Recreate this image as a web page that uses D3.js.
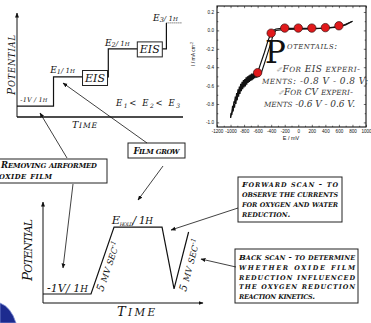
<!DOCTYPE html>
<html>
<head>
<meta charset="utf-8">
<script src="https://cdn.jsdelivr.net/npm/d3@7"></script>
<style>
body { margin: 0; background: #fff; }
svg { display: block; }
text { font-family: "DejaVu Serif", serif; font-style: italic; fill: #111; }
.bold { font-weight: bold; }
.tick text { font-family: "Liberation Sans", Arial, sans-serif; font-style: normal; font-size: 4.6px; }
.axlab { font-family: "Liberation Sans", Arial, sans-serif; font-style: normal; }
</style>
</head>
<body>
<svg id="chart" width="371" height="323"></svg>
<script>
// ---- top left: potential step program (schematic units 0-100) ----
var stepTime = [0, 22, 22, 55, 55, 90, 90];
var stepPot  = [10.5, 10.5, 38.5, 38.5, 65.5, 65.5, 90.5];
var tailTime = [90, 99.5];
var eisTime = [47, 80];
var eisPot  = [37.5, 65];

// ---- bottom: cyclic voltammetry program (schematic units 0-100) ----
var cvTime = [0, 30, 44.4, 74.4, 81.9, 91];
var cvPot  = [8.9, 8.9, 75.2, 75.2, 13.9, 70.3];

// ---- top right: polarisation curve ----
var xTicks = [-1200, -1000, -800, -600, -400, -200, 0, 200, 400, 600, 800, 1000];
var yTicks = [0.2, 0.0, -0.2, -0.4, -0.6, -0.8, -1.0];
var eisE = [-600, -400, -200, 0, 200, 400, 600];
var eisI = [-0.46, -0.03, 0.025, 0.025, 0.025, 0.03, 0.05];

var fwdE = [-1000, -990, -980, -970, -960, -950, -940, -930, -920, -910, -900, -890, -880, -870, -860, -850,
  -840, -830, -820, -810, -800, -790, -780, -770, -760, -750, -740, -730, -720, -710, -700, -690, -680, -670,
  -660, -650, -640, -630, -620, -610, -600, -560, -500, -450, -420, -400, -370, -330, -250, -200, 0, 200, 400,
  600, 700, 800];
var fwdI = [-0.95, -0.90, -0.89, -0.82, -0.84, -0.77, -0.79, -0.72, -0.75, -0.68, -0.71, -0.64, -0.68, -0.61,
  -0.65, -0.58, -0.63, -0.56, -0.61, -0.54, -0.59, -0.53, -0.57, -0.51, -0.56, -0.50, -0.54, -0.49, -0.53, -0.48,
  -0.52, -0.47, -0.51, -0.47, -0.50, -0.46, -0.49, -0.46, -0.48, -0.46, -0.46, -0.37, -0.24, -0.12, -0.06, -0.03,
  0.0, 0.015, 0.022, 0.022, 0.022, 0.022, 0.025, 0.04, 0.06, 0.10];
var revE = [800, 600, 200, -200, -330, -370, -390, -440, -500, -540, -580, -620, -630, -640, -650, -660, -670,
  -680, -690, -700, -710, -720, -730, -740, -750, -760, -770, -780, -790, -800, -810, -820, -830, -840, -850,
  -860, -870, -880, -890, -900, -910, -920, -930, -940, -950, -960, -970, -980, -990, -1000];
var revI = [0.10, 0.035, 0.015, 0.01, 0.0, -0.04, -0.10, -0.22, -0.36, -0.45, -0.50, -0.51, -0.47, -0.52, -0.48,
  -0.53, -0.49, -0.54, -0.50, -0.55, -0.50, -0.56, -0.51, -0.57, -0.52, -0.59, -0.54, -0.61, -0.55, -0.62, -0.57,
  -0.64, -0.59, -0.66, -0.61, -0.69, -0.64, -0.72, -0.67, -0.76, -0.71, -0.80, -0.75, -0.84, -0.80, -0.88, -0.85,
  -0.92, -0.90, -0.95];

var svg = d3.select("#chart");

var defs = svg.append("defs");
defs.append("marker").attr("id", "arr")
  .attr("viewBox", "0 0 10 10").attr("refX", 9).attr("refY", 5)
  .attr("markerWidth", 5).attr("markerHeight", 5)
  .attr("markerUnits", "userSpaceOnUse").attr("orient", "auto")
  .append("path").attr("d", "M0,1 L10,5 L0,9 z").attr("fill", "#111");

// small caps by hand: lowercase runs become smaller capitals
var SC = 0.8;
function label(x, y, parts, cls) {
  var t = svg.append("text").attr("x", x).attr("y", y);
  if (cls) t.attr("class", cls);
  parts.forEach(function(p) {
    var runs = [];
    if (p.sc) {
      var re = /([a-z]+)|([^a-z]+)/g, m;
      while ((m = re.exec(p.t))) {
        if (m[1]) runs.push({t: m[1].toUpperCase(), s: p.s * SC});
        else runs.push({t: m[2], s: p.s});
      }
    } else {
      runs.push({t: p.t, s: p.s});
    }
    runs.forEach(function(r, k) {
      var s = t.append("tspan").text(r.t).style("font-size", r.s + "px");
      if (p.dy && k == 0) s.attr("dy", p.dy);
      if (p.fill) s.style("fill", p.fill);
    });
  });
  return t;
}

function arrow(xa, ya, xb, yb) {
  svg.append("line").attr("x1", xa).attr("y1", ya).attr("x2", xb).attr("y2", yb)
    .attr("stroke", "#111").attr("stroke-width", 0.8).attr("marker-end", "url(#arr)");
}

function box(x, y, w, h) {
  svg.append("rect").attr("x", x).attr("y", y).attr("width", w).attr("height", h)
    .attr("fill", "#fff").attr("stroke", "#222").attr("stroke-width", 1);
}

var line = d3.line().x(function(d) { return d[0]; }).y(function(d) { return d[1]; });

////////////////// top left diagram //////////////////
var x1 = d3.scaleLinear().domain([0, 100]).range([17, 183]);
var y1 = d3.scaleLinear().domain([0, 100]).range([117, 13]);

svg.append("line").attr("x1", x1(0)).attr("y1", y1(0)).attr("x2", x1(0)).attr("y2", y1(100))
  .attr("stroke", "#111").attr("stroke-width", 1).attr("marker-end", "url(#arr)");
svg.append("line").attr("x1", x1(0)).attr("y1", y1(0)).attr("x2", x1(100)).attr("y2", y1(0))
  .attr("stroke", "#111").attr("stroke-width", 1.6);

svg.append("path")
  .attr("d", line(stepTime.map(function(t, i) { return [x1(t), y1(stepPot[i])]; })))
  .attr("fill", "none").attr("stroke", "#111").attr("stroke-width", 1.2);
svg.append("line").attr("x1", x1(tailTime[0])).attr("x2", x1(tailTime[1]))
  .attr("y1", y1(stepPot[6])).attr("y2", y1(stepPot[6]))
  .attr("stroke", "#111").attr("stroke-width", 0.8).attr("stroke-dasharray", "1,1");

eisTime.forEach(function(t, i) {
  var cx = x1(t), cy = y1(eisPot[i]);
  box(cx - 12.5, cy - 7.5, 25, 15);
  label(cx, cy + 4, [{t: "EIS", s: 11}]).attr("text-anchor", "middle");
});

label(x1(2), y1(stepPot[0]) - 4, [{t: "-1V / 1h", s: 6.5, sc: 1}]).attr("textLength", 27);
label(x1(20), y1(stepPot[2]) - 4, [{t: "E", s: 9}, {t: "1", s: 6.5, dy: 1.5}, {t: "/ 1h", s: 7, dy: -1.5, sc: 1}]);
label(x1(53), y1(stepPot[4]) - 3, [{t: "E", s: 9}, {t: "2", s: 6.5, dy: 1.5}, {t: "/ 1h", s: 7, dy: -1.5, sc: 1}]);
label(x1(82), y1(stepPot[6]) - 2, [{t: "E", s: 9}, {t: "3", s: 6.5, dy: 1.5}, {t: "/ 1h", s: 7, dy: -1.5, sc: 1}]);
label(116, 106, [{t: "E", s: 8.5}, {t: "1", s: 6, dy: 1.5}, {t: "< E", s: 8.5, dy: -1.5}, {t: "2", s: 6, dy: 1.5},
  {t: "< E", s: 8.5, dy: -1.5}, {t: "3", s: 6, dy: 1.5}]).attr("textLength", 64);
label(72, 128, [{t: "Time", s: 9.5, sc: 1}]).attr("textLength", 25);
label(0, 0, [{t: "Potential", s: 10.5, sc: 1}]).attr("text-anchor", "middle")
  .attr("transform", "translate(15,65) rotate(-90)").attr("textLength", 60);

////////////////// top right plot //////////////////
var xE = d3.scaleLinear().domain([-1200, 1000]).range([217, 366]);
var yI = d3.scaleLinear().domain([-1.05, 0.265]).range([127, 6]);
var xMinor = d3.range(-1100, 1000, 200);
var yMinor = [0.1, -0.1, -0.3, -0.5, -0.7, -0.9];

var gp = svg.append("g");
gp.append("g").attr("transform", "translate(0," + yI.range()[0] + ")")
  .call(d3.axisBottom(xE).tickValues(xTicks).tickSize(-2.2).tickPadding(2.5).tickFormat(function(d) { return d; }));
gp.append("g").attr("transform", "translate(0," + yI.range()[1] + ")")
  .call(d3.axisTop(xE).tickValues(xTicks).tickSize(-2.2).tickFormat(""));
gp.append("g").attr("transform", "translate(" + xE.range()[0] + ",0)")
  .call(d3.axisLeft(yI).tickValues(yTicks).tickSize(-2.2).tickPadding(3).tickFormat(function(d) { return d.toFixed(1); }));
gp.append("g").attr("transform", "translate(" + xE.range()[1] + ",0)")
  .call(d3.axisRight(yI).tickValues(yTicks).tickSize(-2.2).tickFormat(""));
gp.append("g").attr("transform", "translate(0," + yI.range()[0] + ")")
  .call(d3.axisBottom(xE).tickValues(xMinor).tickSize(-1.3).tickFormat(""));
gp.append("g").attr("transform", "translate(0," + yI.range()[1] + ")")
  .call(d3.axisTop(xE).tickValues(xMinor).tickSize(-1.3).tickFormat(""));
gp.append("g").attr("transform", "translate(" + xE.range()[0] + ",0)")
  .call(d3.axisLeft(yI).tickValues(yMinor).tickSize(-1.3).tickFormat(""));
gp.append("g").attr("transform", "translate(" + xE.range()[1] + ",0)")
  .call(d3.axisRight(yI).tickValues(yMinor).tickSize(-1.3).tickFormat(""));
gp.selectAll(".domain").remove();
gp.selectAll(".tick line").attr("stroke", "#111").attr("stroke-width", 0.6);
gp.append("rect").attr("x", xE.range()[0]).attr("y", yI.range()[1])
  .attr("width", xE.range()[1] - xE.range()[0]).attr("height", yI.range()[0] - yI.range()[1])
  .attr("fill", "none").attr("stroke", "#111").attr("stroke-width", 1.1);

var cvLineRaw = d3.line().x(function(d) { return xE(d[0]); }).y(function(d) { return yI(d[1]); });
gp.append("path").attr("d", cvLineRaw(revE.map(function(e, i) { return [e, revI[i]]; })))
  .attr("fill", "none").attr("stroke", "#111").attr("stroke-width", 1.1);
gp.append("path").attr("d", cvLineRaw(fwdE.map(function(e, i) { return [e, fwdI[i]]; })))
  .attr("fill", "none").attr("stroke", "#111").attr("stroke-width", 1.2);

gp.selectAll("circle.eis").data(eisE).enter().append("circle")
  .attr("class", "eis")
  .attr("cx", function(d) { return xE(d); })
  .attr("cy", function(d, i) { return yI(eisI[i]); })
  .attr("r", 4.2).attr("fill", "#e1191b").attr("stroke", "#3a1010").attr("stroke-width", 0.7);

svg.append("text").attr("class", "axlab").attr("x", 291).attr("y", 140)
  .attr("text-anchor", "middle").style("font-size", "5.5px").text("E / mV");
var yl = svg.append("text").attr("class", "axlab").attr("text-anchor", "middle")
  .attr("transform", "translate(195,54) rotate(-90)").style("font-size", "5px");
yl.append("tspan").text("I / mA cm");
yl.append("tspan").text("-2").attr("dy", -2).style("font-size", "3.5px");

label(265, 63, [{t: "P", s: 31}]).style("font-style", "normal");
label(287, 49, [{t: "otentails:", s: 8.5, sc: 1, fill: "#333"}]).attr("textLength", 50);
label(276, 72, [{t: "\u2710", s: 7, fill: "#999"}, {t: "For ", s: 9, sc: 1, fill: "#333"},
  {t: "EIS", s: 9, fill: "#333"}, {t: " experi-", s: 9, sc: 1, fill: "#333"}]).attr("textLength", 84);
label(262, 83.5, [{t: "ments:  -0.8 V - 0.8 V;", s: 9, sc: 1, fill: "#333"}]).attr("textLength", 106);
label(278, 95, [{t: "\u2710", s: 7, fill: "#999"}, {t: "For ", s: 9, sc: 1, fill: "#333"},
  {t: "CV", s: 9, fill: "#333"}, {t: " experi-", s: 9, sc: 1, fill: "#333"}]).attr("textLength", 75);
label(264, 106.5, [{t: "ments -0.6 V - 0.6 V.", s: 9, sc: 1, fill: "#333"}]).attr("textLength", 91);

////////////////// bottom diagram //////////////////
var x2 = d3.scaleLinear().domain([0, 100]).range([43, 203]);
var y2 = d3.scaleLinear().domain([0, 100]).range([303, 202]);

svg.append("line").attr("x1", x2(0)).attr("y1", y2(0)).attr("x2", x2(0)).attr("y2", y2(100))
  .attr("stroke", "#111").attr("stroke-width", 1).attr("marker-end", "url(#arr)");
svg.append("line").attr("x1", x2(0)).attr("y1", y2(0)).attr("x2", x2(100)).attr("y2", y2(0))
  .attr("stroke", "#111").attr("stroke-width", 1.2).attr("marker-end", "url(#arr)");
svg.append("path")
  .attr("d", line(cvTime.map(function(t, i) { return [x2(t), y2(cvPot[i])]; })))
  .attr("fill", "none").attr("stroke", "#111").attr("stroke-width", 1.2).attr("stroke-linejoin", "miter");

label(x2(2.5), y2(cvPot[0]) - 2, [{t: "-1V/ 1h", s: 11, sc: 1}]).attr("textLength", 41);
label(x2(43), y2(cvPot[2]) - 3, [{t: "E", s: 11.5}, {t: "hold", s: 6, sc: 1, dy: 1.5},
  {t: "/ 1h", s: 11, sc: 1, dy: -1.5}]).attr("textLength", 41);
label(0, 0, [{t: "5 mv sec", s: 10.5, sc: 1}, {t: "-1", s: 6.5, dy: -4}])
  .attr("transform", "translate(103,292) rotate(-71)").attr("textLength", 52);
label(0, 0, [{t: "5 mv sec", s: 10.5, sc: 1}, {t: "-1", s: 6.5, dy: -4}])
  .attr("transform", "translate(186,292) rotate(-75)").attr("textLength", 54);
label(117, 316, [{t: "Time", s: 13, sc: 1}]).attr("textLength", 38);
label(0, 0, [{t: "Potential", s: 13.5, sc: 1}]).attr("text-anchor", "middle")
  .attr("transform", "translate(32,250) rotate(-90)").attr("textLength", 62);

////////////////// callout boxes //////////////////
box(-5, 159, 112, 24);
label(1, 168, [{t: "Removing airformed", s: 8.5, sc: 1}], "bold").attr("textLength", 96);
label(-1, 179, [{t: "oxide film", s: 8.5, sc: 1}], "bold").attr("textLength", 53);

box(128, 143, 57, 15);
label(156.5, 154, [{t: "Film grow", s: 8.5, sc: 1}], "bold").attr("text-anchor", "middle").attr("textLength", 46);

box(238, 177, 104, 45);
var fwdLines = ["Forward scan - to", "observe the currents", "for oxygen and water", "reduction."];
fwdLines.forEach(function(s, i) {
  var t = label(242, 186.5 + i * 10.3, [{t: s, s: 8, sc: 1}], "bold");
  if (i < fwdLines.length - 1) t.attr("textLength", 96);
});

box(235, 249, 123, 54);
var backLines = ["Back scan - to determine", "whether oxide film", "reduction influenced", "the oxygen reduction",
  "reaction kinetics."];
backLines.forEach(function(s, i) {
  var t = label(239, 260 + i * 9.8, [{t: s, s: 8, sc: 1}], "bold");
  if (i < backLines.length - 1) t.attr("textLength", 116);
  else t.attr("textLength", 76);
});

arrow(67, 158, 40, 113);
arrow(147, 143, 63, 83);
arrow(73, 184, 63, 268);
arrow(163, 166, 138, 200);
arrow(238, 208, 171, 230);
arrow(236, 267, 201, 259);

// blue blob in lower left corner
svg.append("path").attr("d", "M0,303 Q11,307 16,323 L0,323 Z")
  .attr("fill", "#1d2b8f").attr("stroke", "#7f8fd6").attr("stroke-width", 0.8);
</script>
</body>
</html>
